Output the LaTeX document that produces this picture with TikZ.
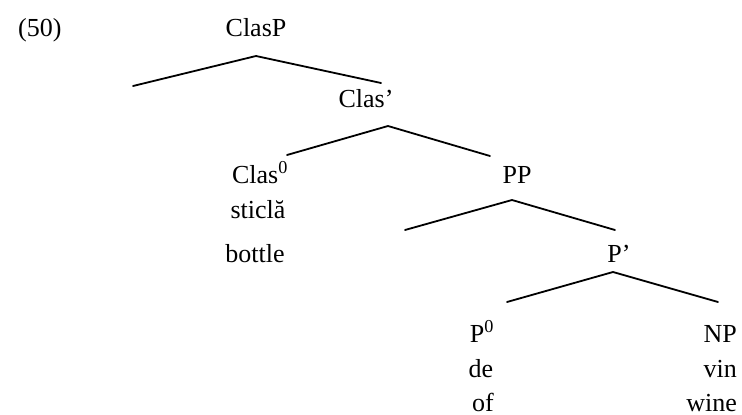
\documentclass[tikz,border=0pt]{standalone}
\usepackage{fontspec}
\setmainfont{Liberation Serif}
\begin{document}
\begin{tikzpicture}[x=1pt,y=-1pt,
  lbl/.style={inner sep=0pt,anchor=base,font=\fontsize{26}{30}\selectfont},
  lblr/.style={lbl,anchor=base east},
  lbll/.style={lbl,anchor=base west},
  branch/.style={line width=1.8pt,line cap=round,line join=miter}]
\useasboundingbox (0,0) rectangle (742,415);
% example number
\node[lbll] (num) at (18,36) {(50)};
% category labels
\node[lbl] (clasp) at (256,36) {ClasP};
\node[lbl] (clasbar) at (366,107) {Clas’};
\node[lbl] (clas0) at (260,183) {Clas\textsuperscript{0}};
\node[lbl] (sticla) at (258,218) {sticlă};
\node[lbl] (bottle) at (255,262) {bottle};
\node[lbl] (pp) at (517,183) {PP};
\node[lbl] (pbar) at (619,262) {P’};
\node[lbl] (p0) at (482,342) {P\textsuperscript{0}};
\node[lbl] (de) at (481,377) {de};
\node[lbl] (of) at (483,411) {of};
\node[lblr] (np) at (737,342) {NP};
\node[lblr] (vin) at (737,377) {vin};
\node[lblr] (wine) at (737,411) {wine};
% branch apexes and ends
\coordinate (a1) at (256,56);  \coordinate (l1) at (133,86);  \coordinate (r1) at (381,83);
\coordinate (a2) at (388,126); \coordinate (l2) at (287,155); \coordinate (r2) at (490,156);
\coordinate (a3) at (512,200); \coordinate (l3) at (405,230); \coordinate (r3) at (615,230);
\coordinate (a4) at (613,272); \coordinate (l4) at (507,302); \coordinate (r4) at (718,302);
\draw[branch] (l1) -- (a1) -- (r1);
\draw[branch] (l2) -- (a2) -- (r2);
\draw[branch] (l3) -- (a3) -- (r3);
\draw[branch] (l4) -- (a4) -- (r4);
\end{tikzpicture}
\end{document}
